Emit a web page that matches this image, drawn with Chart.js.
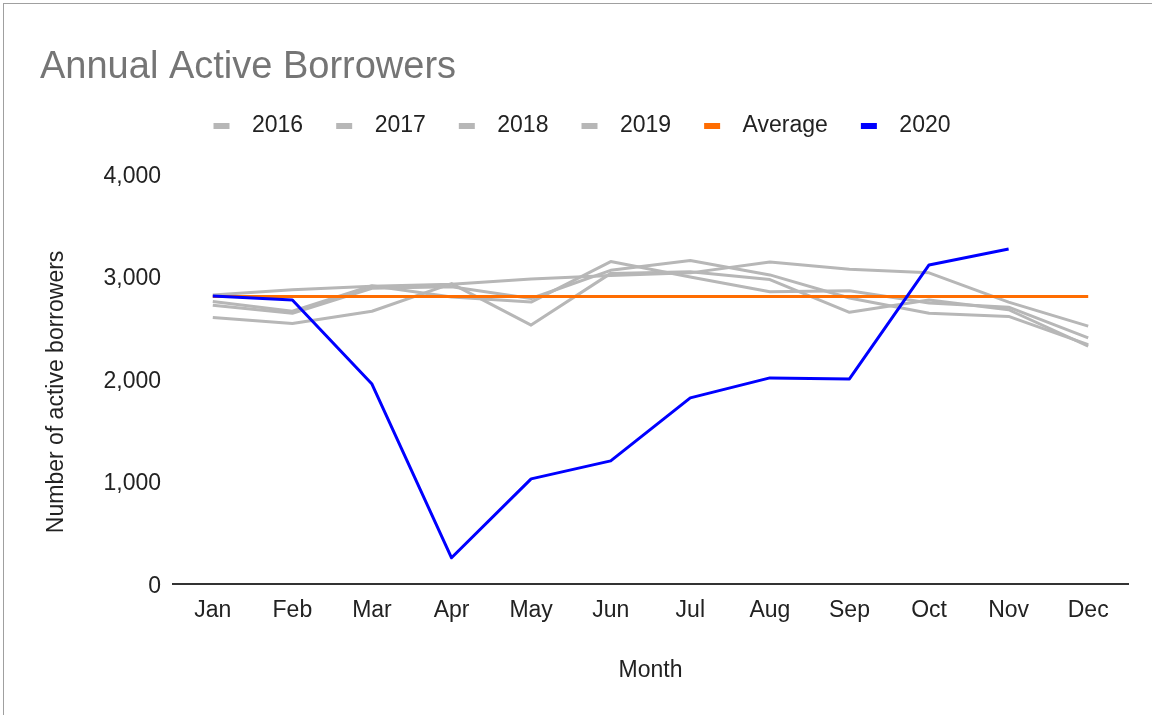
<!DOCTYPE html>
<html>
<head>
<meta charset="utf-8">
<script src="https://cdn.jsdelivr.net/npm/chart.js@4"></script>
<style>
  html, body { margin: 0; padding: 0; background: #fff; overflow: hidden; }
  #frame { position: absolute; left: 3px; top: 3px; width: 1200px; height: 760px; border: 1px solid #a0a0a0; }
  #wrap { position: absolute; left: 0; top: 0; width: 1152px; height: 715px; }
</style>
</head>
<body>
<div id="frame"></div>
<div id="wrap"><canvas id="chart" width="1152" height="715"></canvas></div>
<script>
var months = ["Jan", "Feb", "Mar", "Apr", "May", "Jun", "Jul", "Aug", "Sep", "Oct", "Nov", "Dec"];
var years2016 = [2820, 2870, 2905, 2925, 2975, 3010, 3035, 3140, 3070, 3035, 2750, 2515];
var years2017 = [2755, 2660, 2910, 2800, 2750, 3145, 2995, 2850, 2860, 2740, 2700, 2400];
var years2018 = [2720, 2640, 2885, 2900, 2785, 3060, 3155, 3015, 2790, 2640, 2610, 2335];
var years2019 = [2600, 2540, 2660, 2930, 2525, 3030, 3045, 2970, 2650, 2770, 2675, 2320];
var average = [2805, 2805, 2805, 2805, 2805, 2805, 2805, 2805, 2805, 2805, 2805, 2805];
var years2020 = [2810, 2770, 1950, 254, 1024, 1200, 1815, 2010, 2000, 3112, 3268, null];
var yTicks = [0, 1000, 2000, 3000, 4000];

var FONT = "'Liberation Sans', Arial, sans-serif";
var GRAY = "#b7b7b7";

// legend marker: transparent lead, 16x6 bar, transparent tail before the text
function legendMark(color) {
    var c = document.createElement("canvas");
    c.width = 43;
    c.height = 6;
    var ctx = c.getContext("2d");
    ctx.fillStyle = color;
    ctx.fillRect(16, 0, 16, 6);
    return c;
}

function series(label, data, color, order) {
    return {
        label: label,
        data: data,
        borderColor: color,
        backgroundColor: color,
        borderWidth: 3,
        pointRadius: 0,
        pointHoverRadius: 0,
        tension: 0,
        borderJoinStyle: "round",
        fill: false,
        order: order
    };
}

var datasets = [
    series("2016", years2016, GRAY, 3),
    series("2017", years2017, GRAY, 3),
    series("2018", years2018, GRAY, 3),
    series("2019", years2019, GRAY, 3),
    series("Average", average, "#ff6d01", 2),
    series("2020", years2020, "#0000ff", 1)
];
var marks = datasets.map(function(d) { return legendMark(d.borderColor); });

// extra room under the legend, nudge it left, and drop the y title a little
var layoutTweaks = {
    id: "layoutTweaks",
    beforeLayout: function(chart) {
        var legend = chart.legend;
        if (legend && !legend._spaced) {
            var fit = legend.fit;
            legend.fit = function() {
                fit.call(this);
                this.height += 26.5;
            };
            legend._spaced = true;
        }
    },
    afterLayout: function(chart) {
        chart.legend.left -= 10;
        chart.legend.right -= 10;
        var y = chart.scales.y;
        if (!y._moved) {
            var drawTitle = y.drawTitle;
            y.drawTitle = function() {
                var ctx = this.ctx;
                ctx.save();
                ctx.translate(0, 13);
                drawTitle.call(this);
                ctx.restore();
            };
            y._moved = true;
        }
    }
};

new Chart(document.getElementById("chart").getContext("2d"), {
    type: "line",
    data: { labels: months, datasets: datasets },
    plugins: [layoutTweaks],
    options: {
        responsive: false,
        animation: false,
        events: [],
        layout: { padding: { top: 0, left: 40, right: 24, bottom: 27 } },
        plugins: {
            title: {
                display: true,
                text: "Annual Active Borrowers",
                align: "start",
                color: "#757575",
                font: { family: FONT, size: 38, weight: "normal" },
                padding: { top: 44.7, bottom: 7.2 }
            },
            legend: {
                display: true,
                position: "top",
                align: "center",
                labels: {
                    usePointStyle: true,
                    pointStyleWidth: 43,
                    padding: 17,
                    color: "#222",
                    font: { family: FONT, size: 23 },
                    sort: function(a, b) { return a.datasetIndex - b.datasetIndex; },
                    generateLabels: function(chart) {
                        var items = Chart.defaults.plugins.legend.labels.generateLabels(chart);
                        items.forEach(function(it) { it.pointStyle = marks[it.datasetIndex]; });
                        return items;
                    }
                }
            },
            tooltip: { enabled: false }
        },
        scales: {
            x: {
                type: "category",
                offset: true,
                grid: { display: false, drawTicks: false },
                border: { display: true, color: "#333", width: 2 },
                ticks: { color: "#222", font: { family: FONT, size: 23 }, padding: 13, maxRotation: 0, autoSkip: false },
                title: {
                    display: true,
                    text: "Month",
                    color: "#222",
                    font: { family: FONT, size: 23 },
                    padding: { top: 19, bottom: 4 }
                }
            },
            y: {
                min: 0,
                max: 4000,
                afterFit: function(scale) { scale.width = 133; },
                afterBuildTicks: function(scale) {
                    scale.ticks = yTicks.map(function(v) { return { value: v }; });
                },
                grid: { display: false, drawTicks: false },
                border: { display: false },
                ticks: { color: "#222", font: { family: FONT, size: 23 }, padding: 12, labelOffset: 2.5 },
                title: {
                    display: true,
                    text: "Number of active borrowers",
                    color: "#222",
                    font: { family: FONT, size: 23 },
                    padding: { top: 3, bottom: 0 }
                }
            }
        }
    }
});
</script>
</body>
</html>
